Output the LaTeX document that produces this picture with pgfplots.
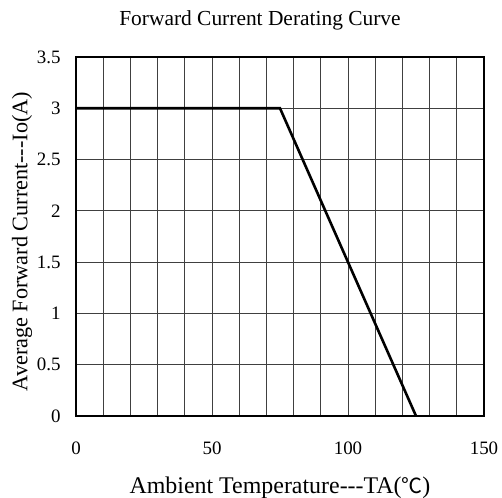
\documentclass[border=0pt]{standalone}
\usepackage{fontspec}
\setmainfont{Liberation Serif}
\newfontfamily\cjk{Noto Sans CJK SC}
\usepackage{pgfplots}
\pgfplotsset{compat=1.18}
\begin{document}
\begin{tikzpicture}[x=1bp,y=1bp]
\path[use as bounding box] (-76,-82) rectangle (426,416);
\begin{axis}[
  at={(0,0)}, anchor=south west,
  scale only axis, width=408bp, height=359bp,
  xmin=0, xmax=150, ymin=0, ymax=3.5,
  xtick={0,50,100,150},
  minor xtick={10,20,30,40,60,70,80,90,110,120,130,140},
  ytick={0,0.5,1,1.5,2,2.5,3,3.5},
  yticklabels={0,0.5,1,1.5,2,2.5,3,3.5},
  xticklabels={0,50,100,150},
  tick style={draw=none},
  grid=both,
  major grid style={draw=black!75, line width=0.8bp},
  minor grid style={draw=black!75, line width=0.8bp},
  axis line style={draw=black, line width=1.2bp},
  ticklabel style={font=\fontsize{19}{21}\selectfont},
  xticklabel style={yshift=-22bp},
  yticklabel style={xshift=-12bp},
  xlabel={Ambient Temperature-{}-{}-TA({\cjk\fontsize{21}{24}\selectfont ℃})},
  xlabel style={font=\fontsize{24}{27}\selectfont, yshift=-16bp},
  clip=false,
]
\addplot[black, line width=2.6bp] coordinates {(0,3) (75,3) (125,0)};
\node[font=\fontsize{21.5}{24}\selectfont] at (rel axis cs:0.451,1.103) {Forward Current Derating Curve};
\node[rotate=90, font=\fontsize{22.3}{25}\selectfont, anchor=center] at ([xshift=-54bp,yshift=10bp]rel axis cs:0,0.458) {Average Forward Current-{}-{}-Io(A)};
\end{axis}
\end{tikzpicture}
\end{document}
